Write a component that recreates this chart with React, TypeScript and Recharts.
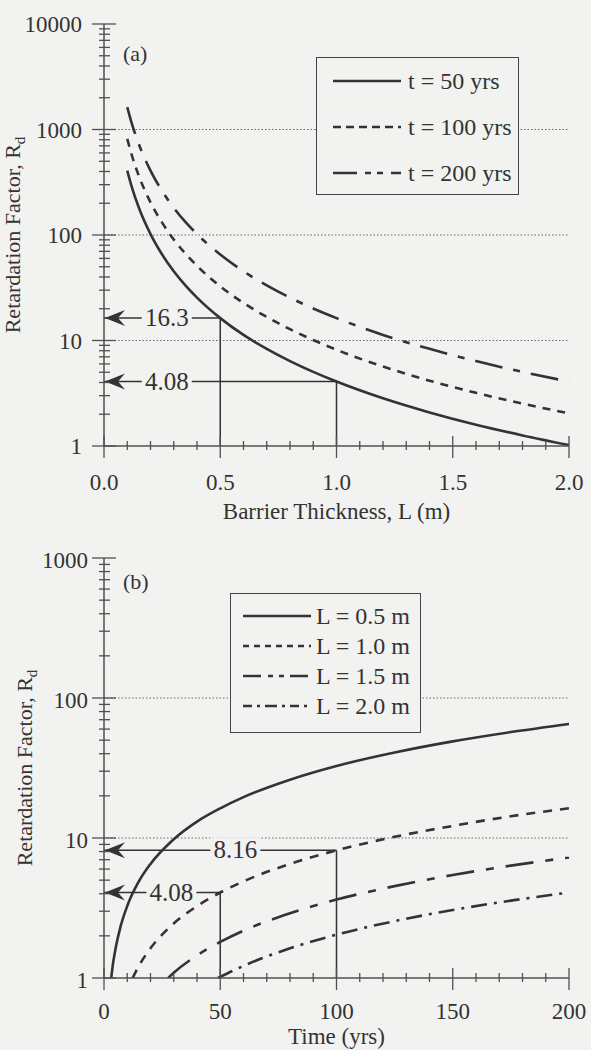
import React from "react";
import {
  LineChart,
  Line,
  XAxis,
  YAxis,
  ReferenceLine,
  ReferenceDot,
  Legend,
} from "recharts";

const BG = "#f2f2f0";
const INK = "#333";
const AXIS = "#505050";
const FONT = "'Liberation Serif', 'Times New Roman', serif";

// (a) retardation factor vs barrier thickness
const thickness = [0.1, 0.12, 0.15, 0.2, 0.25, 0.3, 0.35, 0.4, 0.5, 0.6, 0.7, 0.8, 0.9, 1.0, 1.2, 1.4, 1.6, 1.8, 2.0];
const rd50yrs = [408, 283, 181, 102, 65.3, 45.3, 33.3, 25.5, 16.3, 11.3, 8.33, 6.38, 5.04, 4.08, 2.83, 2.08, 1.59, 1.26, 1.02];
const rd100yrs = [816, 567, 363, 204, 131, 90.7, 66.6, 51.0, 32.6, 22.7, 16.7, 12.8, 10.1, 8.16, 5.67, 4.16, 3.19, 2.52, 2.04];
const rd200yrs = [1632, 1133, 725, 408, 261, 181, 133, 102, 65.3, 45.3, 33.3, 25.5, 20.1, 16.3, 11.3, 8.33, 6.38, 5.04, 4.08];

// (b) retardation factor vs time
const timeL05 = [3.1, 4, 5, 7, 10, 15, 20, 30, 40, 50, 60, 80, 100, 125, 150, 175, 200];
const rdL05 = [1.0, 1.31, 1.63, 2.29, 3.27, 4.9, 6.53, 9.8, 13.1, 16.3, 19.6, 26.1, 32.7, 40.8, 49.0, 57.1, 65.3];
const timeL10 = [12.3, 15, 20, 30, 40, 50, 60, 80, 100, 125, 150, 175, 200];
const rdL10 = [1.0, 1.22, 1.63, 2.45, 3.26, 4.08, 4.9, 6.53, 8.16, 10.2, 12.2, 14.3, 16.3];
const timeL15 = [27.6, 30, 40, 50, 60, 80, 100, 125, 150, 175, 200];
const rdL15 = [1.0, 1.09, 1.45, 1.81, 2.18, 2.9, 3.63, 4.53, 5.44, 6.35, 7.25];
const timeL20 = [49, 60, 80, 100, 125, 150, 175, 200];
const rdL20 = [1.0, 1.22, 1.63, 2.04, 2.55, 3.06, 3.57, 4.08];

// ticks
const xTicksA = [0, 0.1, 0.2, 0.3, 0.4, 0.5, 0.6, 0.7, 0.8, 0.9, 1, 1.1, 1.2, 1.3, 1.4, 1.5, 1.6, 1.7, 1.8, 1.9, 2];
const xMajorA = [0, 0.5, 1, 1.5, 2];
const xTicksB = [0, 10, 20, 30, 40, 50, 60, 70, 80, 90, 100, 110, 120, 130, 140, 150, 160, 170, 180, 190, 200];
const xMajorB = [0, 50, 100, 150, 200];
const yTicksA = [
  1, 2, 3, 4, 5, 6, 7, 8, 9, 10, 20, 30, 40, 50, 60, 70, 80, 90, 100, 200, 300, 400, 500, 600, 700, 800, 900,
  1000, 2000, 3000, 4000, 5000, 6000, 7000, 8000, 9000, 10000,
];
const yMajorA = [1, 10, 100, 1000, 10000];
const yTicksB = [
  1, 2, 3, 4, 5, 6, 7, 8, 9, 10, 20, 30, 40, 50, 60, 70, 80, 90, 100, 200, 300, 400, 500, 600, 700, 800, 900, 1000,
];
const yMajorB = [1, 10, 100, 1000];
const gridA = [10, 100, 1000];
const gridB = [10, 100];

// read-off guides
const guidesA = [
  { at: 0.5, value: 16.3, text: "16.3", textAt: 0.27 },
  { at: 1.0, value: 4.08, text: "4.08", textAt: 0.27 },
];
const guidesB = [
  { at: 100, value: 8.16, text: "8.16", textAt: 56.5 },
  { at: 50, value: 4.08, text: "4.08", textAt: 29 },
];

const seriesA = [
  { name: "t = 50 yrs", y: rd50yrs, dash: undefined, legendDash: undefined },
  { name: "t = 100 yrs", y: rd100yrs, dash: "8 7", legendDash: "8 5" },
  { name: "t = 200 yrs", y: rd200yrs, dash: "28 11 7 11", legendDash: "24 8 6 6 6 8" },
];
const seriesB = [
  { name: "L = 0.5 m", x: timeL05, y: rdL05, dash: undefined, legendDash: undefined },
  { name: "L = 1.0 m", x: timeL10, y: rdL10, dash: "9 8", legendDash: "6 5" },
  { name: "L = 1.5 m", x: timeL15, y: rdL15, dash: "28 12 8 12", legendDash: "18 7 5 6 5 6" },
  { name: "L = 2.0 m", x: timeL20, y: rdL20, dash: "16 7 3 7", legendDash: "9 5 3 5 12 5 3 5" },
];

type Side = "left" | "right" | "top" | "bottom";

function axisTick(
  side: Side,
  majors: number[],
  major: [number, number],
  minor: [number, number],
  label?: { dx: number; dy: number; fmt: (v: number) => string }
) {
  return (props: any) => {
    const { x, y, payload } = props;
    const v = payload.value;
    const isMajor = majors.includes(v);
    const [a, b] = isMajor ? major : minor;
    const vertAxis = side === "left" || side === "right";
    return (
      <g>
        {vertAxis ? (
          <line x1={x - a} x2={x + b} y1={y} y2={y} stroke={AXIS} strokeWidth={1.3} />
        ) : (
          <line x1={x} x2={x} y1={y - a} y2={y + b} stroke={AXIS} strokeWidth={1.3} />
        )}
        {isMajor && label && (
          <text
            x={x + label.dx}
            y={y + label.dy}
            textAnchor={vertAxis ? "end" : "middle"}
            fontFamily={FONT}
            fontSize={23}
            fill={INK}
          >
            {label.fmt(v)}
          </text>
        )}
      </g>
    );
  };
}

const arrowHead = (p: any) => (
  <path
    d={`M${p.cx + 1},${p.cy} L${p.cx + 21},${p.cy - 8} L${p.cx + 14},${p.cy} L${p.cx + 21},${p.cy + 8} Z`}
    fill={INK}
  />
);

const guideText = (text: string) => (p: any) => (
  <g>
    <rect x={p.cx - 25} y={p.cy - 13} width={50} height={24} fill={BG} />
    <text x={p.cx} y={p.cy + 8} textAnchor="middle" fontFamily={FONT} fontSize={25} fill={INK}>
      {text}
    </text>
  </g>
);

// panel tag "(a)" / "(b)" anchored to the top-left plot corner
const panelTag = (text: string, dy: number) => (p: any) => (
  <text x={p.cx + 19} y={p.cy + dy} fontFamily={FONT} fontSize={22} fill={INK}>
    {text}
  </text>
);

function yTitle(dx: number) {
  return (props: any) => {
    const vb = props.viewBox;
    const cx = vb.x + dx;
    const cy = vb.y + vb.height / 2;
    return (
      <text
        x={cx}
        y={cy}
        transform={`rotate(-90 ${cx} ${cy})`}
        textAnchor="middle"
        fontFamily={FONT}
        fontSize={22}
        fill={INK}
      >
        Retardation Factor, R
        <tspan dy={5} fontSize={15}>d</tspan>
      </text>
    );
  };
}

function xTitle(text: string, dy: number) {
  return (props: any) => {
    const vb = props.viewBox;
    return (
      <text
        x={vb.x + vb.width / 2}
        y={vb.y + dy}
        textAnchor="middle"
        fontFamily={FONT}
        fontSize={23}
        fill={INK}
      >
        {text}
      </text>
    );
  };
}

function legendBox(
  styles: { name: string; legendDash?: string }[],
  w: number,
  h: number,
  rows: number[],
  sx: number,
  tx: number
) {
  return () => (
    <div
      style={{
        width: w,
        height: h,
        boxSizing: "border-box",
        border: `1.5px solid #444`,
        background: BG,
      }}
    >
      <svg width={w - 3} height={h - 3} style={{ display: "block" }}>
        {styles.map((s, i) => {
          const by = rows[i];
          return (
            <g key={s.name}>
              <line
                x1={sx}
                x2={sx + 68}
                y1={by - 8}
                y2={by - 8}
                stroke={INK}
                strokeWidth={2.4}
                strokeDasharray={s.legendDash}
              />
              <text x={tx} y={by} fontFamily={FONT} fontSize={24} fill={INK}>
                {s.name}
              </text>
            </g>
          );
        })}
      </svg>
    </div>
  );
}

function ChartA() {
  return (
    <LineChart width={591} height={540} margin={{ top: 24, right: 22, bottom: 0, left: 0 }}>
      <XAxis
        xAxisId={0}
        type="number"
        dataKey="x"
        domain={[0, 2]}
        ticks={xTicksA}
        interval={0}
        tickSize={0}
        tickMargin={0}
        height={94}
        axisLine={{ stroke: AXIS, strokeWidth: 1.5 }}
        tickLine={false}
        tick={axisTick("bottom", xMajorA, [10, 12], [5, 4], { dx: 0, dy: 44, fmt: (v) => v.toFixed(1) })}
        label={xTitle("Barrier Thickness, L (m)", 73)}
      />
      <XAxis
        xAxisId="top"
        orientation="top"
        type="number"
        domain={[0, 2]}
        ticks={xTicksA}
        interval={0}
        tickSize={0}
        tickMargin={0}
        height={0}
        axisLine={{ stroke: AXIS, strokeWidth: 1.5 }}
        tickLine={false}
        tick={axisTick("top", xMajorA, [12, 12], [4, 4])}
      />
      <YAxis
        yAxisId={0}
        type="number"
        scale="log"
        domain={[1, 10000]}
        allowDataOverflow
        ticks={yTicksA}
        interval={0}
        tickSize={0}
        tickMargin={0}
        width={104}
        axisLine={{ stroke: AXIS, strokeWidth: 1.5 }}
        tickLine={false}
        tick={axisTick("left", yMajorA, [12, 12], [5, 6], { dx: -22, dy: 8, fmt: (v) => String(v) })}
        label={yTitle(20)}
      />
      <YAxis
        yAxisId="right"
        orientation="right"
        type="number"
        scale="log"
        domain={[1, 10000]}
        allowDataOverflow
        ticks={yTicksA}
        interval={0}
        tickSize={0}
        tickMargin={0}
        width={0}
        axisLine={{ stroke: AXIS, strokeWidth: 1.5 }}
        tickLine={false}
        tick={axisTick("right", yMajorA, [12, 12], [6, 6])}
      />
      {gridA.map((g) => (
        <ReferenceLine key={g} y={g} stroke="#666" strokeWidth={1} strokeDasharray="1.5 2" />
      ))}
      {guidesA.map((g) => (
        <ReferenceLine
          key={"h" + g.text}
          segment={[
            { x: 0, y: g.value },
            { x: g.at, y: g.value },
          ]}
          stroke={INK}
          strokeWidth={1.5}
        />
      ))}
      {guidesA.map((g) => (
        <ReferenceLine
          key={"v" + g.text}
          segment={[
            { x: g.at, y: 1 },
            { x: g.at, y: g.value },
          ]}
          stroke={INK}
          strokeWidth={1.5}
        />
      ))}
      {seriesA.map((s) => (
        <Line
          key={s.name}
          name={s.name}
          data={thickness.map((x, i) => ({ x, y: s.y[i] }))}
          dataKey="y"
          type="monotone"
          stroke={INK}
          strokeWidth={2.6}
          strokeDasharray={s.dash}
          dot={false}
          isAnimationActive={false}
        />
      ))}
      {guidesA.map((g) => (
        <ReferenceDot key={"a" + g.text} x={0} y={g.value} r={1} shape={arrowHead} />
      ))}
      {guidesA.map((g) => (
        <ReferenceDot key={"t" + g.text} x={g.textAt} y={g.value} r={1} shape={guideText(g.text)} />
      ))}
      <ReferenceDot x={0} y={10000} r={1} shape={panelTag("(a)", 37)} />
      <Legend
        layout="horizontal"
        verticalAlign="middle"
        align="center"
        wrapperStyle={{ left: 316, top: 57, width: 203, height: 138 }}
        content={legendBox(seriesA, 203, 138, [31, 77, 123], 16, 91)}
      />
    </LineChart>
  );
}

function ChartB() {
  return (
    <LineChart width={591} height={510} margin={{ top: 18, right: 22, bottom: 0, left: 0 }}>
      <XAxis
        xAxisId={0}
        type="number"
        dataKey="x"
        domain={[0, 200]}
        ticks={xTicksB}
        interval={0}
        tickSize={0}
        tickMargin={0}
        height={72}
        axisLine={{ stroke: AXIS, strokeWidth: 1.5 }}
        tickLine={false}
        tick={axisTick("bottom", xMajorB, [10, 12], [5, 4], { dx: 0, dy: 41, fmt: (v) => String(v) })}
        label={xTitle("Time (yrs)", 66)}
      />
      <XAxis
        xAxisId="top"
        orientation="top"
        type="number"
        domain={[0, 200]}
        ticks={xTicksB}
        interval={0}
        tickSize={0}
        tickMargin={0}
        height={0}
        axisLine={{ stroke: AXIS, strokeWidth: 1.5 }}
        tickLine={false}
        tick={axisTick("top", xMajorB, [12, 12], [4, 4])}
      />
      <YAxis
        yAxisId={0}
        type="number"
        scale="log"
        domain={[1, 1000]}
        allowDataOverflow
        ticks={yTicksB}
        interval={0}
        tickSize={0}
        tickMargin={0}
        width={104}
        axisLine={{ stroke: AXIS, strokeWidth: 1.5 }}
        tickLine={false}
        tick={axisTick("left", yMajorB, [12, 12], [5, 6], { dx: -16, dy: 10, fmt: (v) => String(v) })}
        label={yTitle(32)}
      />
      <YAxis
        yAxisId="right"
        orientation="right"
        type="number"
        scale="log"
        domain={[1, 1000]}
        allowDataOverflow
        ticks={yTicksB}
        interval={0}
        tickSize={0}
        tickMargin={0}
        width={0}
        axisLine={{ stroke: AXIS, strokeWidth: 1.5 }}
        tickLine={false}
        tick={axisTick("right", yMajorB, [12, 12], [6, 6])}
      />
      {gridB.map((g) => (
        <ReferenceLine key={g} y={g} stroke="#666" strokeWidth={1} strokeDasharray="1.5 2" />
      ))}
      {guidesB.map((g) => (
        <ReferenceLine
          key={"h" + g.text}
          segment={[
            { x: 0, y: g.value },
            { x: g.at, y: g.value },
          ]}
          stroke={INK}
          strokeWidth={1.5}
        />
      ))}
      {guidesB.map((g) => (
        <ReferenceLine
          key={"v" + g.text}
          segment={[
            { x: g.at, y: 1 },
            { x: g.at, y: g.value },
          ]}
          stroke={INK}
          strokeWidth={1.5}
        />
      ))}
      {seriesB.map((s) => (
        <Line
          key={s.name}
          name={s.name}
          data={s.x.map((x, i) => ({ x, y: s.y[i] }))}
          dataKey="y"
          type="monotone"
          stroke={INK}
          strokeWidth={2.6}
          strokeDasharray={s.dash}
          dot={false}
          isAnimationActive={false}
        />
      ))}
      {guidesB.map((g) => (
        <ReferenceDot key={"a" + g.text} x={0} y={g.value} r={1} shape={arrowHead} />
      ))}
      {guidesB.map((g) => (
        <ReferenceDot key={"t" + g.text} x={g.textAt} y={g.value} r={1} shape={guideText(g.text)} />
      ))}
      <ReferenceDot x={0} y={1000} r={1} shape={panelTag("(b)", 31)} />
      <Legend
        layout="horizontal"
        verticalAlign="middle"
        align="center"
        wrapperStyle={{ left: 230, top: 53, width: 191, height: 140 }}
        content={legendBox(seriesB, 191, 140, [30, 60, 90, 120], 12, 85)}
      />
    </LineChart>
  );
}

export default function App() {
  return (
    <div style={{ position: "absolute", left: 0, top: 0, width: 591, height: 1050, background: BG }}>
      <div style={{ position: "absolute", left: 0, top: 0 }}>
        <ChartA />
      </div>
      <div style={{ position: "absolute", left: 0, top: 540 }}>
        <ChartB />
      </div>
    </div>
  );
}
